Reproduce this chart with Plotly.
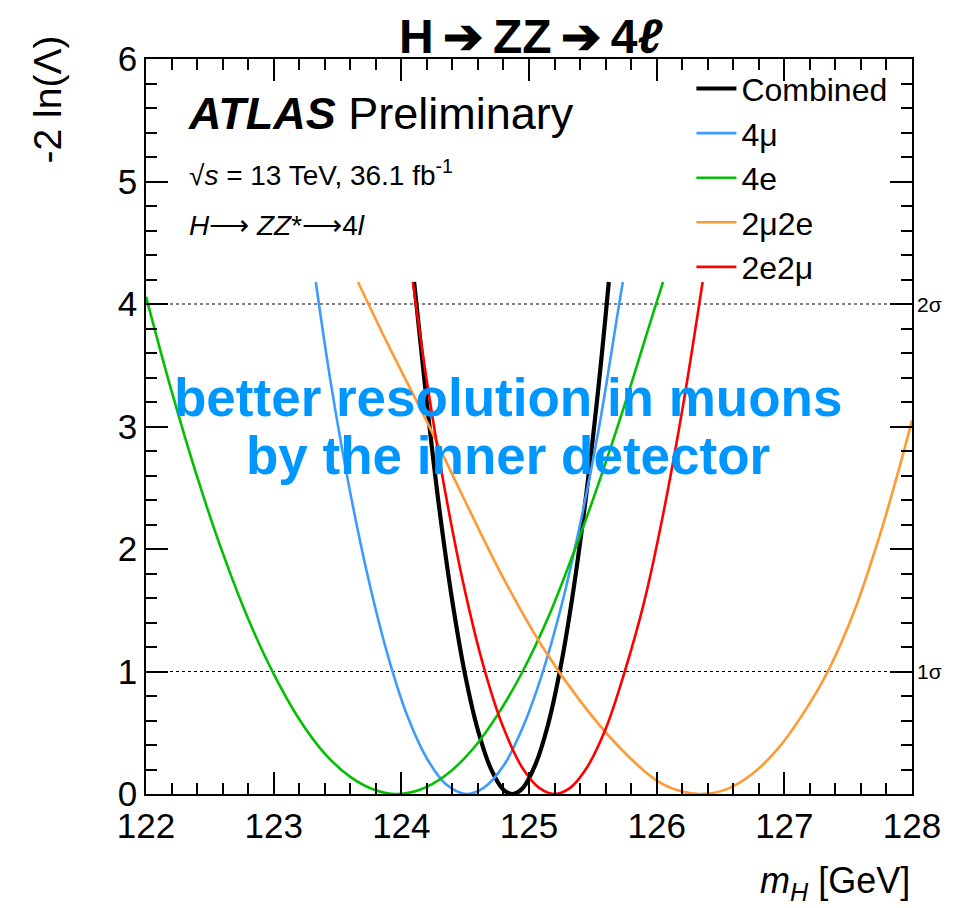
import plotly.graph_objects as go

# ---- data ----
x_range = [122, 128]
y_range = [0, 6]
x_ticks = [122, 123, 124, 125, 126, 127, 128]
y_ticks = [0, 1, 2, 3, 4, 5, 6]
sigma_levels = [1, 4]
sigma_labels = ["1σ", "2σ"]

comb_x = [124.10, 124.20, 124.30, 124.40, 124.50, 124.60, 124.70, 124.80, 124.87,
          124.95, 125.05, 125.15, 125.25, 125.35, 125.45, 125.55, 125.625]
comb_y = [4.18, 3.19, 2.31, 1.57, 0.97, 0.52, 0.21, 0.035, 0.00,
          0.047, 0.24, 0.57, 1.05, 1.68, 2.46, 3.38, 4.18]

mu4_x = [123.33, 123.45, 123.60, 123.75, 123.90, 124.05, 124.20, 124.35, 124.51,
         124.65, 124.80, 124.95, 125.10, 125.25, 125.40, 125.55, 125.70, 125.735]
mu4_y = [4.18, 3.34, 2.46, 1.72, 1.11, 0.63, 0.29, 0.08, 0.00,
         0.054, 0.23, 0.54, 0.97, 1.52, 2.20, 3.00, 3.96, 4.18]

e4_x = [122.00, 122.20, 122.40, 122.60, 122.80, 123.00, 123.20, 123.40, 123.60, 123.80, 123.96,
        124.15, 124.35, 124.55, 124.75, 124.95, 125.15, 125.35, 125.55, 125.75, 125.95, 126.05]
e4_y = [4.06, 3.29, 2.59, 1.97, 1.43, 0.98, 0.61, 0.33, 0.14, 0.03, 0.00,
        0.037, 0.155, 0.355, 0.64, 1.00, 1.44, 1.97, 2.55, 3.18, 3.85, 4.18]

mu2e2_x = [123.66, 123.90, 124.20, 124.50, 124.80, 125.10, 125.40, 125.70, 126.00, 126.20, 126.35,
           126.55, 126.75, 126.95, 127.15, 127.35, 127.55, 127.75, 127.90, 128.00]
mu2e2_y = [4.18, 3.66, 3.04, 2.39, 1.76, 1.21, 0.76, 0.39, 0.11, 0.02, 0.00,
           0.04, 0.165, 0.37, 0.66, 1.02, 1.50, 2.12, 2.66, 3.05]

e2mu2_x = [124.09, 124.20, 124.35, 124.50, 124.65, 124.80, 124.95, 125.08, 125.20,
           125.32, 125.45, 125.60, 125.75, 125.90, 126.05, 126.20, 126.36]
e2mu2_y = [4.18, 3.37, 2.43, 1.65, 1.02, 0.54, 0.21, 0.05, 0.00,
           0.048, 0.21, 0.53, 1.00, 1.56, 2.28, 3.13, 4.18]

series = [
    ("Combined", comb_x, comb_y, "#000000", 4.2),
    ("4μ", mu4_x, mu4_y, "#3d9bff", 2.6),
    ("4e", e4_x, e4_y, "#00c000", 2.6),
    ("2μ2e", mu2e2_x, mu2e2_y, "#ff9933", 2.6),
    ("2e2μ", e2mu2_x, e2mu2_y, "#ff0000", 2.6),
]

FONT = "Liberation Sans, Arial, Helvetica, sans-serif"

fig = go.Figure()
for i, (name, xs, ys, col, w) in enumerate(series):
    fig.add_trace(go.Scatter(x=xs, y=ys, mode="lines", name=name,
                             line=dict(color=col, width=w, shape="spline", smoothing=1.0)))

shapes = []
annotations = []
for lvl, lab in zip(sigma_levels, sigma_labels):
    shapes.append(dict(type="line", xref="paper", x0=0, x1=1, yref="y", y0=lvl, y1=lvl,
                       line=dict(color="black", width=1.2, dash="dot"), layer="below"))
    annotations.append(dict(x=1.004, xref="paper", y=lvl, yref="y", text=lab, showarrow=False,
                            xanchor="left", yanchor="middle",
                            font=dict(family=FONT, size=21, color="black")))

axis_common = dict(showline=True, linecolor="black", linewidth=1.5, mirror="ticks",
                   ticks="inside", ticklen=22, tickwidth=1.5, tickcolor="black",
                   showgrid=False, zeroline=False,
                   tickfont=dict(family=FONT, size=35, color="black"))

fig.update_xaxes(range=x_range, tickvals=x_ticks,
                 minor=dict(dtick=0.2, ticks="inside", ticklen=11, tickwidth=1.5, tickcolor="black"),
                 **axis_common)
fig.update_yaxes(range=y_range, tickvals=y_ticks,
                 minor=dict(dtick=0.2, ticks="inside", ticklen=11, tickwidth=1.5, tickcolor="black"),
                 **axis_common)

annotations += [
    dict(text="<b>H\u2009➔\u2009ZZ\u2009➔\u20094<i>ℓ</i></b>", x=0.502, xref="paper", y=1.031,
         yref="paper", xanchor="center", yanchor="middle",
         font=dict(family=FONT, size=48, color="black"), showarrow=False),
    dict(text="<b><i>ATLAS</i></b> Preliminary", x=0.052, xref="paper", y=0.9265, yref="paper",
         xanchor="left", yanchor="middle", font=dict(family=FONT, size=45, color="black"),
         showarrow=False),
    dict(text="√<i>s</i> = 13 TeV, 36.1 fb<sup>-1</sup>", x=0.053, xref="paper", y=0.845,
         yref="paper", xanchor="left", yanchor="middle",
         font=dict(family=FONT, size=28, color="black"), showarrow=False),
    dict(text="<i>H</i>⟶ <i>ZZ</i>*⟶4<i>l</i>", x=0.053, xref="paper", y=0.773, yref="paper",
         xanchor="left", yanchor="middle", font=dict(family=FONT, size=28, color="black"),
         showarrow=False),
    dict(text="<b>better resolution in muons</b>", x=0.473, xref="paper",
         y=(794 - 397) / 735, yref="paper", xanchor="center", yanchor="middle",
         font=dict(family=FONT, size=53, color="#0096ff"), showarrow=False),
    dict(text="<b>by the inner detector</b>", x=0.473, xref="paper",
         y=(794 - 455) / 735, yref="paper", xanchor="center", yanchor="middle",
         font=dict(family=FONT, size=53, color="#0096ff"), showarrow=False),
    dict(text="-2 ln(Λ)", x=-0.129, xref="paper", y=1.035, yref="paper", textangle=-90,
         xanchor="center", yanchor="top", font=dict(family=FONT, size=39, color="black"),
         showarrow=False),
    dict(text="<i>m<sub>H</sub></i> [GeV]", x=1.0, xref="paper", y=-0.121, yref="paper",
         xanchor="right", yanchor="middle", font=dict(family=FONT, size=36, color="black"),
         showarrow=False),
]

fig.update_layout(
    width=974, height=908,
    margin=dict(l=146, r=62, t=59, b=114),
    plot_bgcolor="white", paper_bgcolor="white",
    annotations=annotations,
    shapes=shapes,
    legend=dict(x=0.712, xanchor="left", y=0.997, yanchor="top",
                font=dict(family=FONT, size=32, color="black"),
                bgcolor="rgba(0,0,0,0)", itemwidth=40, tracegroupgap=0),
    showlegend=True,
)

fig.write_html("out.html")
